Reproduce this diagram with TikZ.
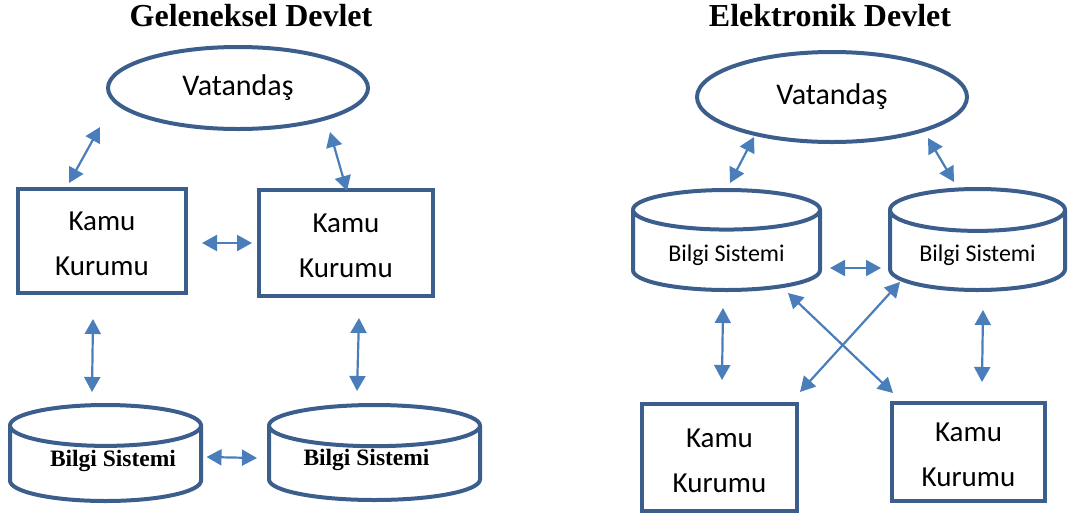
\documentclass[tikz,border=0pt]{standalone}
\usepackage{fontspec}
\setmainfont{Liberation Serif}
\newfontfamily\calib{Carlito}
\usetikzlibrary{arrows.meta,shapes.geometric}
\definecolor{edgeblue}{HTML}{3B5E8C}
\definecolor{arrowblue}{HTML}{4A7EBB}

\begin{document}
\begin{tikzpicture}[x=1pt,y=-1pt,
  heading/.style={font=\fontsize{32}{38}\selectfont\bfseries},
  citizen/.style={ellipse, draw=edgeblue, line width=4pt, inner sep=0pt, font=\calib\fontsize{30}{36}\selectfont},
  office/.style={rectangle, draw=edgeblue, line width=4pt, inner sep=0pt, align=center, text height=70pt, font=\calib\fontsize{29}{45}\selectfont},
  infosys/.style={cylinder, shape border rotate=90, aspect=0.32, anchor=shape center, draw=edgeblue, line width=4pt, inner sep=0pt},
  arr/.style={{Triangle[length=15pt,width=16pt]}-{Triangle[length=15pt,width=16pt]}, line width=2.2pt, arrowblue},
]
  \useasboundingbox (0,0) rectangle (1068,515);
  % Geleneksel Devlet
  \node[heading] (tl) at (251,16) {Geleneksel Devlet};
  \node[citizen, minimum width=260, minimum height=82] (vat1) at (238,88) {Vatandaş};
  \node[office, minimum width=168, minimum height=104] (kk1) at (102,241) {Kamu\\Kurumu};
  \node[office, minimum width=174, minimum height=106] (kk2) at (346,243) {Kamu\\Kurumu};
  \node[infosys, aspect=0.29, minimum width=191, minimum height=96, font=\fontsize{23.5}{28}\selectfont\bfseries] (bs1) at (105.5,453) {\raisebox{-2pt}[0pt][0pt]{\hspace*{15pt}Bilgi Sistemi}};
  \node[infosys, aspect=0.29, minimum width=211, minimum height=95, font=\fontsize{23.5}{28}\selectfont\bfseries] (bs2) at (374.5,452.5) {\raisebox{-2pt}[0pt][0pt]{Bilgi Sistemi\hspace*{16pt}}};
  \draw[arr] ([shift={(-138,39)}]vat1.center) -- ([shift={(-33,-58)}]kk1.center);
  \draw[arr] ([shift={(92,44)}]vat1.center) -- ([shift={(1,-52)}]kk2.center);
  \draw[arr] ([shift={(100,2)}]kk1.center) -- ([shift={(-94,0)}]kk2.center);
  \draw[arr] ([shift={(-9,78)}]kk1.center) -- ([shift={(-13.5,-61)}]bs1.shape center);
  \draw[arr] ([shift={(13,75)}]kk2.center) -- ([shift={(-17.5,-61.5)}]bs2.shape center);
  \draw[arr] ([shift={(101,4)}]bs1.shape center) -- ([shift={(-117.5,5.5)}]bs2.shape center);
  % Elektronik Devlet
  \node[heading] (tr) at (830,16) {Elektronik Devlet};
  \node[citizen, minimum width=270, minimum height=90] (vat2) at (832,97) {Vatandaş};
  \node[infosys, aspect=0.34, minimum width=187, minimum height=100, font=\calib\fontsize{24}{28}\selectfont] (bs3) at (726.5,240) {\raisebox{-11pt}[0pt][0pt]{Bilgi Sistemi}};
  \node[infosys, aspect=0.36, minimum width=175, minimum height=101, font=\calib\fontsize{24}{28}\selectfont] (bs4) at (977.5,239.5) {\raisebox{-10.5pt}[0pt][0pt]{Bilgi Sistemi}};
  \node[office, minimum width=155, minimum height=107] (kk3) at (719.5,457.5) {Kamu\\Kurumu};
  \node[office, minimum width=153, minimum height=98] (kk4) at (968.5,452) {Kamu\\Kurumu};
  \draw[arr] ([shift={(-78,40)}]vat2.center) -- ([shift={(3.5,-57)}]bs3.shape center);
  \draw[arr] ([shift={(96,41)}]vat2.center) -- ([shift={(-23.5,-57.5)}]bs4.shape center);
  \draw[arr] ([shift={(103.5,28)}]bs3.shape center) -- ([shift={(-96.5,28.5)}]bs4.shape center);
  \draw[arr] ([shift={(61.5,53)}]bs3.shape center) -- ([shift={(-75.5,-59)}]kk4.center);
  \draw[arr] ([shift={(-77.5,42.5)}]bs4.shape center) -- ([shift={(80.5,-65.5)}]kk3.center);
  \draw[arr] ([shift={(-3.5,68)}]bs3.shape center) -- ([shift={(2.5,-77.5)}]kk3.center);
  \draw[arr] ([shift={(5.5,70.5)}]bs4.shape center) -- ([shift={(13.5,-70)}]kk4.center);
\end{tikzpicture}
\end{document}
